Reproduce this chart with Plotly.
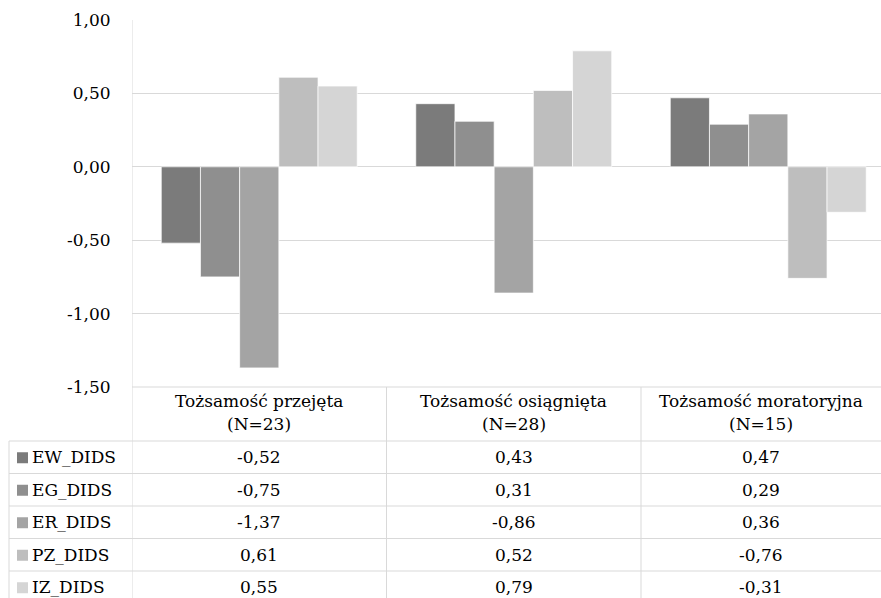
import plotly.graph_objects as go

# ---- data -------------------------------------------------------------
categories = ["Tożsamość przejęta", "Tożsamość osiągnięta", "Tożsamość moratoryjna"]
group_sizes = ["(N=23)", "(N=28)", "(N=15)"]
series_names = ["EW_DIDS", "EG_DIDS", "ER_DIDS", "PZ_DIDS", "IZ_DIDS"]
EW_DIDS = [-0.52, 0.43, 0.47]
EG_DIDS = [-0.75, 0.31, 0.29]
ER_DIDS = [-1.37, -0.86, 0.36]
PZ_DIDS = [0.61, 0.52, -0.76]
IZ_DIDS = [0.55, 0.79, -0.31]
series_values = [EW_DIDS, EG_DIDS, ER_DIDS, PZ_DIDS, IZ_DIDS]
series_colors = ["#7b7b7b", "#8f8f8f", "#a4a4a4", "#bebebe", "#d5d5d5"]
y_ticks = [-1.5, -1.0, -0.5, 0.0, 0.5, 1.0]

# ---- canvas geometry ----------------------------------------------------
W, H = 881, 598
ML, MR, MT, MB = 132, 0, 20, 211
PW, PH = W - ML - MR, H - MT - MB
CAT_PX = 254.5                      # width of one category slot
x_hi = -0.5 + PW / CAT_PX           # last slot runs past the right edge

FONT = "DejaVu Serif"
FS = 17
GRID = "#d9d9d9"
TXT = "#000000"


def px_x(px):
    return (px - ML) / PW


def px_y(py):
    return (H - MB - py) / PH


def fmt(v):
    return f"{v:.2f}".replace(".", ",")


fig = go.Figure()
xs = list(range(len(categories)))
for name, vals, col in zip(series_names, series_values, series_colors):
    fig.add_trace(go.Bar(
        x=xs, y=vals, name=name,
        marker=dict(color=col, line=dict(color="rgba(255,255,255,0.7)", width=1)),
        showlegend=False,
    ))

shapes = []
ann = []

# data table below the plot (pixel geometry)
TABLE_TOP = H - MB
HEADER_H = 54
ROW_H = 32.5
TABLE_BOTTOM = TABLE_TOP + HEADER_H + ROW_H * len(series_names)
LABEL_LEFT = 9


def hline(py, x0, x1):
    shapes.append(dict(type="line", xref="paper", yref="paper",
                       x0=px_x(x0), x1=px_x(x1), y0=px_y(py), y1=px_y(py),
                       line=dict(color=GRID, width=1)))


def vline_cat(xc, py0, py1):
    shapes.append(dict(type="line", xref="x", yref="paper",
                       x0=xc, x1=xc, y0=px_y(py0), y1=px_y(py1),
                       line=dict(color=GRID, width=1)))


# left axis line continues down through the table
vline_cat(-0.5, MT, TABLE_BOTTOM)
for k in range(1, len(categories)):
    vline_cat(k - 0.5, TABLE_TOP, TABLE_BOTTOM)
shapes.append(dict(type="line", xref="paper", yref="paper",
                   x0=px_x(LABEL_LEFT), x1=px_x(LABEL_LEFT),
                   y0=px_y(TABLE_TOP + HEADER_H), y1=px_y(TABLE_BOTTOM),
                   line=dict(color=GRID, width=1)))
hline(TABLE_TOP, ML, W)
for r in range(len(series_names)):
    hline(TABLE_TOP + HEADER_H + r * ROW_H, LABEL_LEFT, W)

# column centres (the last column is centred in its visible part)
col_x = [float(i) for i in xs]
col_x[-1] = (len(categories) - 1.5 + x_hi) / 2

for cx, cat, n in zip(col_x, categories, group_sizes):
    ann.append(dict(x=cx, xref="x", y=px_y(TABLE_TOP + 14), yref="paper",
                    text=cat, showarrow=False, xanchor="center", yanchor="middle",
                    font=dict(family=FONT, size=FS, color=TXT)))
    ann.append(dict(x=cx, xref="x", y=px_y(TABLE_TOP + 37), yref="paper",
                    text=n, showarrow=False, xanchor="center", yanchor="middle",
                    font=dict(family=FONT, size=FS, color=TXT)))

for r, (name, vals, col) in enumerate(zip(series_names, series_values, series_colors)):
    cy = TABLE_TOP + HEADER_H + r * ROW_H + ROW_H / 2
    # legend key
    shapes.append(dict(type="rect", xref="paper", yref="paper",
                       x0=px_x(17), x1=px_x(28), y0=px_y(cy - 5), y1=px_y(cy + 6),
                       fillcolor=col, line=dict(width=0)))
    ann.append(dict(x=px_x(30), xref="paper", y=px_y(cy), yref="paper",
                    text=name, showarrow=False, xanchor="left", yanchor="middle",
                    font=dict(family=FONT, size=FS, color=TXT)))
    for cx, v in zip(col_x, vals):
        ann.append(dict(x=cx, xref="x", y=px_y(cy), yref="paper",
                        text=fmt(v), showarrow=False, xanchor="center", yanchor="middle",
                        font=dict(family=FONT, size=FS, color=TXT)))

fig.update_layout(
    width=W, height=H, autosize=False,
    margin=dict(l=ML, r=MR, t=MT, b=MB, pad=0),
    paper_bgcolor="white", plot_bgcolor="white",
    barmode="group", bargap=0.23, bargroupgap=0,
    font=dict(family=FONT, size=FS, color=TXT),
    shapes=shapes, annotations=ann,
)
fig.update_xaxes(range=[-0.5, x_hi], showticklabels=False, showgrid=False,
                 zeroline=False, showline=False, ticks="", automargin=False)
fig.update_yaxes(range=[-1.5, 1.0], tickvals=y_ticks,
                 ticktext=[fmt(t) for t in y_ticks],
                 showgrid=True, gridcolor=GRID, gridwidth=1,
                 zeroline=True, zerolinecolor=GRID, zerolinewidth=1,
                 showline=False, ticks="outside", ticklen=17,
                 tickcolor="rgba(0,0,0,0)", automargin=False,
                 tickfont=dict(family=FONT, size=FS, color=TXT))

fig.write_html("out.html")
